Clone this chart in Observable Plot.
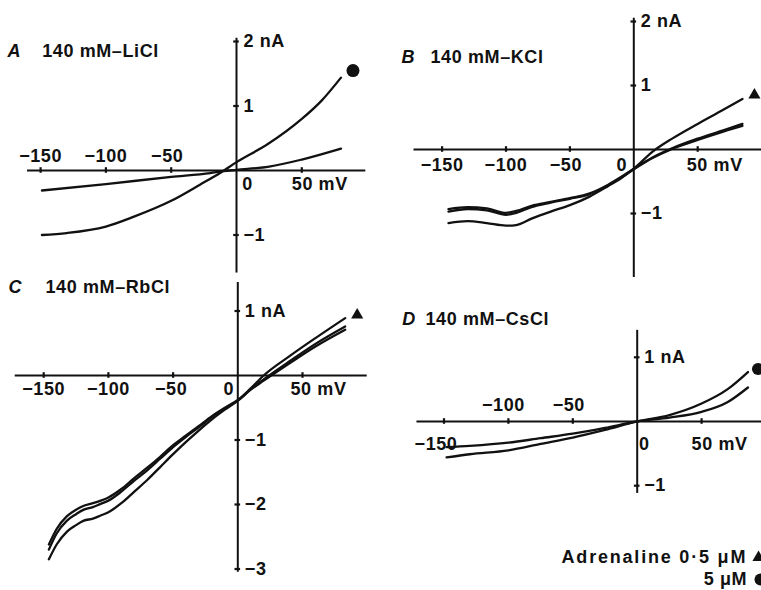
<!DOCTYPE html>
<html><head><meta charset="utf-8">
<script src="https://cdn.jsdelivr.net/npm/d3@7"></script>
<script src="https://cdn.jsdelivr.net/npm/@observablehq/plot@0.6"></script>
<style>
body{margin:0;background:#fff}
#wrap{position:relative;width:761px;height:590px;overflow:hidden;background:#fff}
#wrap .panel{position:absolute}
#wrap svg text{letter-spacing:0.6px}
</style>
</head><body><div id="wrap"></div>
<script>
// ---------- DATA ----------
const panelLetters = ["A", "B", "C", "D"];
const panelTitles = ["140 mM–LiCl", "140 mM–KCl", "140 mM–RbCl", "140 mM–CsCl"];

const xTickValues = [-150, -100, -50, 0, 50];
const xTickLabels = ["−150", "−100", "−50", "0", "50 mV"];

const aYTickValues = [2, 1, -1];
const aYTickLabels = ["2 nA", "1", "−1"];
const bYTickValues = [2, 1, -1];
const bYTickLabels = ["2 nA", "1", "−1"];
const cYTickValues = [1, -1, -2, -3];
const cYTickLabels = ["1 nA", "−1", "−2", "−3"];
const dYTickValues = [1, -1];
const dYTickLabels = ["1 nA", "−1"];

const legendLabels = ["Adrenaline 0·5 μM", "5 μM"];

// Panel A – LiCl (mV, nA)
const aControlMV = [-149, -100, -50, -20, -10, 0, 25, 50, 80];
const aControlNA = [-0.31, -0.21, -0.10, -0.04, -0.01, 0.01, 0.06, 0.17, 0.34];
const aAdrenalineMV = [-149, -130, -100, -79, -50, -28, -12, 0, 24, 50, 65, 80];
const aAdrenalineNA = [-1.00, -0.97, -0.87, -0.72, -0.47, -0.22, -0.03, 0.13, 0.41, 0.80, 1.08, 1.44];

// Panel B – KCl
const bMV = [-145, -130, -115, -100, -92, -80, -65, -50, -35, -20, -10, 0, 15, 30, 50, 70, 85];
const bControlNA = [-0.93, -0.90, -0.92, -0.99, -0.96, -0.88, -0.82, -0.76, -0.69, -0.55, -0.43, -0.30, -0.12, 0.02, 0.17, 0.30, 0.40];
const bWashNA = [-0.97, -0.93, -0.95, -1.02, -0.99, -0.90, -0.83, -0.77, -0.70, -0.56, -0.44, -0.31, -0.13, 0.01, 0.15, 0.28, 0.37];
const bAdrenalineNA = [-1.15, -1.12, -1.15, -1.19, -1.18, -1.08, -0.97, -0.87, -0.74, -0.57, -0.45, -0.30, -0.03, 0.17, 0.40, 0.62, 0.79];

// Panel C – RbCl
const cMV = [-146, -140, -132, -125, -119, -112, -106, -100, -90, -80, -70, -60, -50, -40, -30, -20, -10, 0, 10, 20, 40, 60, 83];
const cAdrenalineNA = [-2.85, -2.62, -2.42, -2.32, -2.25, -2.22, -2.17, -2.12, -1.98, -1.80, -1.62, -1.42, -1.22, -1.03, -0.85, -0.68, -0.53, -0.39, -0.20, 0.00, 0.30, 0.58, 0.89];
const cControlNA = [-2.70, -2.45, -2.25, -2.15, -2.08, -2.04, -1.99, -1.94, -1.80, -1.63, -1.47, -1.29, -1.11, -0.95, -0.80, -0.64, -0.51, -0.39, -0.22, -0.08, 0.19, 0.45, 0.71];
const cWashNA = [-2.62, -2.38, -2.18, -2.08, -2.02, -1.98, -1.94, -1.89, -1.76, -1.59, -1.43, -1.26, -1.08, -0.93, -0.78, -0.63, -0.50, -0.38, -0.21, -0.06, 0.22, 0.49, 0.76];

// Panel D – CsCl
const dMV = [-148, -130, -100, -75, -50, -25, 0, 25, 50, 70, 86];
const dControlNA = [-0.40, -0.38, -0.33, -0.26, -0.19, -0.10, 0.00, 0.06, 0.15, 0.30, 0.53];
const dAdrenalineNA = [-0.56, -0.51, -0.45, -0.35, -0.25, -0.13, 0.00, 0.10, 0.28, 0.50, 0.77];

// ---------- LAYOUT (page pixels) ----------
const ink = "#111";
const font = "'Liberation Sans', Arial, Helvetica, sans-serif";
const fs = 18;

const panels = [
  { left: 0, top: 0, width: 380, height: 276, ox: 236, oy: 170, kx: 1.306, ky: 64.5,
    xAxis: [-160, 99], yAxis: [-1.59, 2.05], letterX: 7, titleX: 41.7, titleY: 51,
    xLabelDx: [0, 0, -4, 11, -10], xLabelDy: [-14, -14, -14, 14, 14], xLabelAnchor: ["middle","middle","middle","middle","start"],
    yTicks: aYTickValues, yLabels: aYTickLabels,
    series: [{mv: aControlMV, na: aControlNA}, {mv: aAdrenalineMV, na: aAdrenalineNA, symbol: "circle", r: 6.5, dx: 12, dy: -7}] },
  { left: 380, top: 0, width: 381, height: 290, ox: 633.3, oy: 149, kx: 1.278, ky: 64,
    xAxis: [-172, 101], yAxis: [-2.0, 2.05], letterX: 401, titleX: 430, titleY: 56.7,
    xLabelDx: [0, 0, -4, -12, -11], xLabelDy: [16, 16, 16, 16, 16], xLabelAnchor: ["middle","middle","middle","middle","start"],
    yTicks: bYTickValues, yLabels: bYTickLabels,
    series: [{mv: bMV, na: bControlNA}, {mv: bMV, na: bWashNA}, {mv: bMV, na: bAdrenalineNA, symbol: "triangle", r: 4.5, dx: 12, dy: -4}] },
  { left: 0, top: 276, width: 380, height: 314, ox: 237.3, oy: 375, kx: 1.294, ky: 64.5,
    xAxis: [-172, 100], yAxis: [-3.05, 1.44], letterX: 8, titleX: 45, titleY: 286.7,
    xLabelDx: [0, 0, -2, -9, -12], xLabelDy: [14, 14, 14, 14, 14], xLabelAnchor: ["middle","middle","middle","middle","start"],
    yTicks: cYTickValues, yLabels: cYTickLabels,
    series: [{mv: cMV, na: cControlNA}, {mv: cMV, na: cWashNA}, {mv: cMV, na: cAdrenalineNA, symbol: "triangle", r: 4.5, dx: 12, dy: -3}] },
  { left: 380, top: 290, width: 381, height: 300, ox: 636.7, oy: 421, kx: 1.288, ky: 64.2,
    xAxis: [-171, 98], yAxis: [-1.12, 1.42], letterX: 401.7, titleX: 425, titleY: 318.3,
    xLabelDx: [-8, -5, -4, 7, -10], xLabelDy: [23, -16, -16, 23, 23], xLabelAnchor: ["middle","middle","middle","middle","start"],
    yTicks: dYTickValues, yLabels: dYTickLabels,
    series: [{mv: dMV, na: dControlNA}, {mv: dMV, na: dAdrenalineNA, symbol: "circle", r: 6, dx: 10, dy: -3}],
    legend: true }
];

const wrap = document.getElementById("wrap");
const textOpts = {fill: ink, fontSize: fs, fontWeight: "bold", fontFamily: font, lineAnchor: "middle"};

panels.forEach((L, pi) => {
  const x0 = (L.left - L.ox) / L.kx, x1 = (L.left + L.width - L.ox) / L.kx;
  const y0 = (L.oy - (L.top + L.height)) / L.ky, y1 = (L.oy - L.top) / L.ky;
  const rows = L.series.flatMap((s, si) => s.mv.map((v, i) => ({mV: v, nA: s.na[i], z: si})));
  const tickH = 2.8 / L.ky, tickW = 2.8 / L.kx;
  const xt = xTickValues.map((v, i) => ({v, label: xTickLabels[i], i}));
  const yt = L.yTicks.map((v, i) => ({v, label: L.yLabels[i]}));

  const marks = [
    Plot.ruleY([0], {x1: L.xAxis[0], x2: L.xAxis[1], stroke: ink, strokeWidth: 2}),
    Plot.ruleX([0], {y1: L.yAxis[0], y2: L.yAxis[1], stroke: ink, strokeWidth: 2}),
    Plot.ruleX(xTickValues.filter(v => v !== 0), {x: d => d, y1: -tickH, y2: tickH, stroke: ink, strokeWidth: 2.2}),
    Plot.ruleY(L.yTicks, {y: d => d, x1: -tickW, x2: tickW, stroke: ink, strokeWidth: 2.2}),
    Plot.line(rows, {x: "mV", y: "nA", z: "z", curve: "monotone-x", stroke: ink, strokeWidth: 2.3, strokeLinejoin: "round"}),
    ...xt.map(t => Plot.text([t], {x: "v", y: () => 0, text: "label", dx: L.xLabelDx[t.i], dy: L.xLabelDy[t.i], textAnchor: L.xLabelAnchor[t.i], ...textOpts})),
    Plot.text(yt, {x: () => 0, y: "v", text: "label", dx: 7, textAnchor: "start", ...textOpts}),
    Plot.text([panelLetters[pi]], {text: d => d, frameAnchor: "top-left", dx: L.letterX - L.left, dy: L.titleY - L.top, textAnchor: "start", fontStyle: "italic", ...textOpts}),
    Plot.text([panelTitles[pi]], {text: d => d, frameAnchor: "top-left", dx: L.titleX - L.left, dy: L.titleY - L.top, textAnchor: "start", ...textOpts})
  ];
  L.series.filter(s => s.symbol).forEach(s => {
    const end = {mV: s.mv[s.mv.length - 1], nA: s.na[s.na.length - 1]};
    marks.push(Plot.dot([end], {x: "mV", y: "nA", symbol: () => s.symbol, r: s.r, fill: ink, stroke: "none", dx: s.dx, dy: s.dy}));
  });
  if (L.legend) {
    marks.push(Plot.text([legendLabels[0]], {text: d => d, frameAnchor: "bottom-right", dx: -14.3, dy: -33, textAnchor: "end", ...textOpts}));
    marks.push(Plot.text([legendLabels[1]], {text: d => d, frameAnchor: "bottom-right", dx: -14.3, dy: -11, textAnchor: "end", ...textOpts}));
    marks.push(Plot.dot([0], {frameAnchor: "bottom-right", symbol: "triangle", r: 4.5, fill: ink, dx: -3, dy: -33}));
    marks.push(Plot.dot([0], {frameAnchor: "bottom-right", symbol: "circle", r: 6, fill: ink, dx: -1, dy: -11}));
  }

  const svg = Plot.plot({
    width: L.width, height: L.height,
    marginTop: 0, marginRight: 0, marginBottom: 0, marginLeft: 0,
    x: {domain: [x0, x1], axis: null},
    y: {domain: [y0, y1], axis: null},
    symbol: {type: "identity"},
    style: {background: "transparent", fontFamily: font},
    marks
  });
  // wider set for the long legend line, as in the original typesetting
  svg.querySelectorAll("text").forEach(t => {
    if (t.textContent === legendLabels[0]) t.style.letterSpacing = "1.8px";
  });
  svg.classList.add("panel");
  svg.style.left = L.left + "px";
  svg.style.top = L.top + "px";
  wrap.appendChild(svg);
});
</script></body></html>
